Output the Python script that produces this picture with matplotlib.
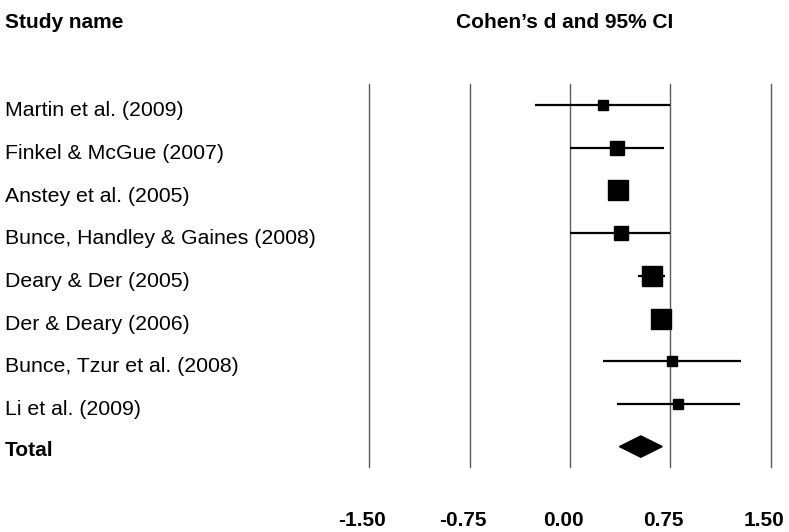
import numpy as np
import matplotlib
matplotlib.use('Agg')
import matplotlib.pyplot as plt
from matplotlib.patches import Polygon
from matplotlib.transforms import offset_copy

plt.rcParams['font.family'] = ['Liberation Sans', 'DejaVu Sans']

# study data (Cohen's d, 95% CI)
studies = ['Martin et al. (2009)', 'Finkel & McGue (2007)', 'Anstey et al. (2005)',
           'Bunce, Handley & Gaines (2008)', 'Deary & Der (2005)', 'Der & Deary (2006)',
           'Bunce, Tzur et al. (2008)', 'Li et al. (2009)']
d = [0.25, 0.35, 0.36, 0.38, 0.61, 0.68, 0.76, 0.81]
lower = [-0.26, 0.00, 0.32, 0.00, 0.51, 0.64, 0.25, 0.35]
upper = [0.75, 0.70, 0.40, 0.75, 0.71, 0.71, 1.28, 1.27]
weights = [7.7, 9.6, 14.2, 9.4, 13.7, 14.0, 7.7, 7.9]   # square size (pt)

total_d = 0.53
total_lo = 0.37
total_hi = 0.69

ticks = [-1.50, -0.75, 0.00, 0.75, 1.50]

fig = plt.figure(figsize=(7.89, 5.32), dpi=100)
ax = fig.add_axes([0, 0, 1, 1])
px_x = 133.7   # pixels per unit of d
px_y = 42.7    # pixels per row
ax.set_xlim(-570 / px_x, 219 / px_x)
ax.set_ylim(427 / px_y, -105 / px_y)
ax.axis('off')

# vertical reference lines
for t in ticks:
    ax.plot([t, t], [-0.49, 8.47], color='#5a5a5a', lw=1.0, zorder=1)

rows = np.arange(len(studies))
ax.hlines(rows, lower, upper, color='black', lw=1.6, zorder=2)
for i in rows:
    ax.plot(d[i], i, 's', color='black', markersize=weights[i], zorder=3)

n = len(studies)
diamond = Polygon([[total_lo, n], [total_d, n - 0.25], [total_hi, n], [total_d, n + 0.25]],
                  closed=True, color='black', zorder=3)
ax.add_patch(diamond)

# labels
lab_tr = ax.get_yaxis_transform()
for i, s in enumerate(studies):
    ax.text(5 / 789, i + 0.26, s, transform=lab_tr, fontsize=15.3, va='baseline', ha='left')
ax.text(5 / 789, n + 0.22, 'Total', transform=lab_tr, fontsize=15, fontweight='bold',
        va='baseline', ha='left')

ax.text(5 / 789, -1.80, 'Study name', transform=lab_tr, fontsize=15, fontweight='bold',
        va='baseline', ha='left')
ax.text(565 / 789, -1.80, 'Cohen\u2019s d and 95% CI', transform=lab_tr, fontsize=15,
        fontweight='bold', va='baseline', ha='center')

tick_tr = offset_copy(ax.transData, fig=fig, x=-7, y=0, units='dots')
for t in ticks:
    ax.text(t, 9.85, '%.2f' % t, transform=tick_tr, fontsize=15, fontweight='bold',
            va='baseline', ha='center')

fig.savefig('out.png', dpi=100, facecolor='white')
